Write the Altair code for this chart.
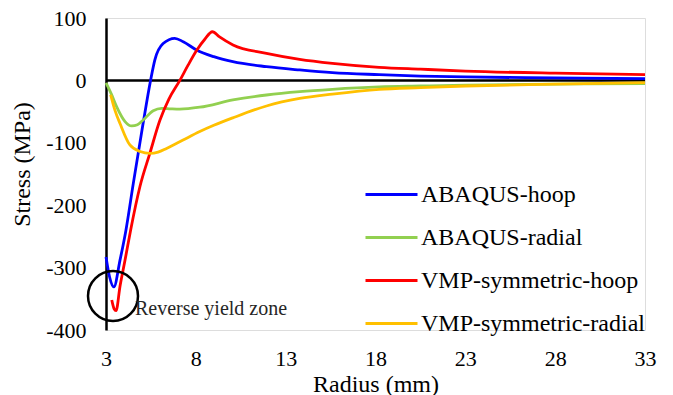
import altair as alt
import pandas as pd

# ---- data ----
abaqus_hoop_r = [3.0, 3.2, 3.44, 3.78, 4.11, 4.52, 5.07, 5.48, 5.72, 6.18, 6.83, 7.3, 8.04, 9.0, 10.06, 11.93, 13.78, 15.6, 18.2, 20.5, 23, 28, 33]
abaqus_hoop_s = [-283, -315, -331, -288, -240, -165, -68, 0, 33, 59, 67.5, 62, 48.7, 38, 30, 22, 16.7, 12.4, 9.2, 7, 5.5, 4, 3]

abaqus_radial_r = [3.0, 3.3, 3.59, 4.06, 4.43, 4.75, 5.07, 5.63, 6.1, 6.6, 7.11, 8.22, 10.06, 11.93, 13.78, 15.6, 18.2, 20.5, 23, 28, 33]
abaqus_radial_s = [-4, -22, -42, -66, -73, -71, -63.5, -48.5, -44.7, -45.5, -46, -43, -31.4, -23.4, -18, -14.3, -10.5, -9, -7.5, -6, -5]

vmp_hoop_r = [3.32, 3.45, 3.56, 3.78, 4.06, 4.37, 4.89, 5.44, 6.0, 6.5, 7.11, 7.56, 8.04, 8.5, 8.92, 9.3, 10.07, 11.93, 13.78, 15.6, 18.2, 20.5, 23, 28, 33]
vmp_hoop_s = [-352, -366, -369, -330, -288, -240, -170, -117, -64, -30, 0, 24, 48, 66, 78, 70, 56.7, 43.4, 33.8, 27.4, 21, 18, 15, 11.5, 9.2]

vmp_radial_r = [3.26, 3.5, 3.78, 4.33, 4.9, 5.44, 5.9, 6.37, 7.29, 8.22, 9.0, 10.06, 11.93, 13.78, 15.6, 18.2, 20.5, 23, 28, 33]
vmp_radial_s = [-23, -48, -69, -103.5, -114, -117, -115, -109, -95.5, -82, -72, -60, -41, -29, -22, -14.3, -11.5, -9, -6, -3.5]

series_names = ["ABAQUS-hoop", "ABAQUS-radial", "VMP-symmetric-hoop", "VMP-symmetric-radial"]
series_colors = ["#0000FF", "#92D050", "#FF0000", "#FFC000"]

x_ticks = [3, 8, 13, 18, 23, 28, 33]
y_ticks = [100, 0, -100, -200, -300, -400]

zone_r = [3.39]
zone_s = [-345.5]
zone_label = ["Reverse yield zone"]
zone_label_r = [4.61]
zone_label_s = [-376]

# ---- build table ----
rows = []
for name, rr, ss in zip(series_names,
                        [abaqus_hoop_r, abaqus_radial_r, vmp_hoop_r, vmp_radial_r],
                        [abaqus_hoop_s, abaqus_radial_s, vmp_hoop_s, vmp_radial_s]):
    for i, (r, s) in enumerate(zip(rr, ss)):
        rows.append({"series": name, "r": r, "s": s, "order": i})
df = pd.DataFrame(rows)

FONT = "Liberation Serif"

xscale = alt.Scale(domain=[3, 33], nice=False, zero=False)
yscale = alt.Scale(domain=[-400, 100], nice=False)

lines = alt.Chart(df).mark_line(strokeWidth=2.8, interpolate="monotone").encode(
    x=alt.X("r:Q", scale=xscale,
            axis=alt.Axis(title="Radius (mm)", values=x_ticks, domain=False, ticks=False,
                          grid=False, labelPadding=18, labelExpr="'' + datum.value",
                          titleY=61, titleBaseline="alphabetic",
                          labelFont=FONT, titleFont=FONT, labelFontSize=22, titleFontSize=24,
                          labelColor="#000", titleColor="#000", titleFontWeight="normal",
                          labelFlush=False)),
    y=alt.Y("s:Q", scale=yscale,
            axis=alt.Axis(title="Stress (MPa)", values=y_ticks, domain=True, domainColor="#000",
                          domainWidth=2.5, ticks=False, grid=False, labelPadding=20,
                          labelExpr="'' + datum.value",
                          titleX=-84, titleY=146, titleBaseline="middle", titleAlign="center",
                          labelFont=FONT, titleFont=FONT, labelFontSize=22, titleFontSize=24,
                          labelColor="#000", titleColor="#000", titleFontWeight="normal")),
    color=alt.Color("series:N",
                    scale=alt.Scale(domain=series_names, range=series_colors),
                    legend=alt.Legend(title=None, orient="none", legendX=258, legendY=149,
                                      symbolType="stroke", symbolSize=2704, symbolStrokeWidth=2.8,
                                      labelFont=FONT, labelFontSize=24, labelColor="#000",
                                      labelLimit=400, rowPadding=3, labelOffset=2)),
    order="order:Q",
    detail="series:N",
)

zero_df = pd.DataFrame({"r": [3], "r2": [33], "s": [0]})
zero_line = alt.Chart(zero_df).mark_rule(color="#000", strokeWidth=2.5).encode(
    x=alt.X("r:Q", scale=xscale), x2="r2:Q", y=alt.Y("s:Q", scale=yscale)
)

circle = alt.Chart(pd.DataFrame({"r": zone_r, "s": zone_s})).mark_point(
    shape="circle", size=2500, filled=False, color="#000", strokeWidth=2.5, opacity=1
).encode(x=alt.X("r:Q", scale=xscale), y=alt.Y("s:Q", scale=yscale))

label = alt.Chart(pd.DataFrame({"r": zone_label_r, "s": zone_label_s, "t": zone_label})).mark_text(
    align="left", baseline="alphabetic", font=FONT, fontSize=20, color="#262626"
).encode(x=alt.X("r:Q", scale=xscale), y=alt.Y("s:Q", scale=yscale), text="t:N")

chart = alt.layer(zero_line, lines, circle, label).properties(
    width=539, height=312,
    autosize=alt.AutoSizeParams(type="none"),
    padding={"left": 106, "top": 18, "right": 28, "bottom": 65},
).configure_view(stroke=None).configure(background="white")

chart.save("out.html", embed_options={"renderer": "svg", "actions": False})
